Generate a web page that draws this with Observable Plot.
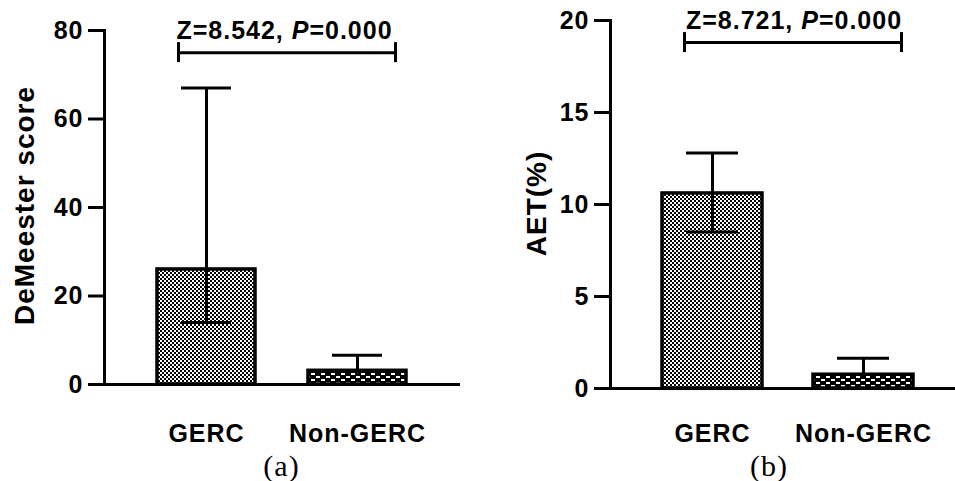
<!DOCTYPE html>
<html>
<head>
<meta charset="utf-8">
<script src="https://cdn.jsdelivr.net/npm/d3@7"></script>
<script src="https://cdn.jsdelivr.net/npm/@observablehq/plot@0.6"></script>
<style>
  html, body { margin: 0; padding: 0; background: #fff; }
  #wrap { display: flex; flex-direction: row; width: 955px; height: 481px; overflow: hidden; }
</style>
</head>
<body>
<svg width="0" height="0" style="position:absolute">
  <defs>
    <pattern id="dots" width="4" height="4" patternUnits="userSpaceOnUse">
      <rect width="4" height="4" fill="#000"/>
      <rect x="0" y="0" width="2" height="2" fill="#fff"/>
      <rect x="2" y="2" width="2" height="2" fill="#fff"/>
    </pattern>
    <pattern id="checks" width="10" height="6" patternUnits="userSpaceOnUse">
      <rect width="10" height="6" fill="#000"/>
      <rect x="1" y="1" width="4" height="2" fill="#fff"/>
      <rect x="6" y="4" width="4" height="2" fill="#fff"/>
    </pattern>
  </defs>
</svg>
<div id="wrap"></div>
<script>
// ---- data ----
const categories = ["GERC", "Non-GERC"];
const demeesterMean = [26, 3.1];
const demeesterUpper = [67, 6.6];
const demeesterLower = [14, null];
const aetMean = [10.6, 0.75];
const aetUpper = [12.8, 1.65];
const aetLower = [8.5, null];
const demeesterTicks = [0, 20, 40, 60, 80];
const aetTicks = [0, 5, 10, 15, 20];
const yTitles = ["DeMeester score", "AET(%)"];
const statLabels = ["Z=8.542, P=0.000", "Z=8.721, P=0.000"];
const bracketLevels = [75, 18.8];
const panelLabels = ["(a)", "(b)"];

function rowsOf(mean, upper, lower) {
  return categories.map((c, i) => ({group: c, mean: mean[i], upper: upper[i], lower: lower[i]}));
}

function italicizeP(svg, label) {
  d3.select(svg).selectAll("text")
    .filter(function () { return this.textContent === label; })
    .each(function () {
      const k = label.indexOf("P");
      const t = d3.select(this);
      t.text(null);
      t.append("tspan").text(label.slice(0, k));
      t.append("tspan").attr("font-style", "italic").text("P");
      t.append("tspan").text(label.slice(k + 1));
    });
}

function panel(o) {
  const rows = rowsOf(o.mean, o.upper, o.lower);
  const fills = {"GERC": "url(#dots)", "Non-GERC": "url(#checks)"};
  const svg = Plot.plot({
    width: o.width,
    height: 481,
    marginLeft: o.marginLeft,
    marginRight: o.marginRight,
    marginTop: o.marginTop,
    marginBottom: o.marginBottom,
    style: {fontFamily: "'Liberation Sans', Arial, sans-serif", fontSize: "25px", fontWeight: "bold", letterSpacing: "1px", color: "#000", background: "#fff"},
    x: {domain: categories, paddingInner: o.paddingInner, paddingOuter: o.paddingOuter, align: o.align, label: null},
    y: {domain: o.domain, label: null},
    marks: [
      ...categories.map(c => Plot.barY(rows, {filter: d => d.group === c, x: "group", y: "mean", fill: fills[c], stroke: "#000", strokeWidth: 3.5})),
      Plot.ruleX(rows, {x: "group", y1: d => d.lower ?? d.mean, y2: "upper", stroke: "#000", strokeWidth: 3}),
      Plot.tickY(rows, {x: "group", y: "upper", insetLeft: 24, insetRight: 24, stroke: "#000", strokeWidth: 3}),
      Plot.tickY(rows.filter(d => d.lower != null), {x: "group", y: "lower", insetLeft: 24, insetRight: 24, stroke: "#000", strokeWidth: 3}),
      Plot.ruleY([0], {insetLeft: -16, stroke: "#000", strokeWidth: 3}),
      Plot.frame({anchor: "left", stroke: "#000", strokeWidth: 3}),
      Plot.axisY({ticks: o.ticks, tickSize: 16, tickPadding: 5, strokeWidth: 3, label: null, tickFormat: d => String(d)}),
      Plot.axisX({tickSize: 0, tickPadding: o.xPad, label: null}),
      Plot.text([o.title], {frameAnchor: "left", textAnchor: "middle", lineAnchor: "middle", rotate: -90, dx: o.titleDx, dy: o.titleDy, fontSize: 28}),
      // significance bracket
      Plot.ruleY([{a: categories[0], b: categories[1], level: o.level}], {x1: "a", x2: "b", y: "level", insetLeft: 21, insetRight: 12, stroke: "#000", strokeWidth: 3}),
      Plot.ruleX([{c: categories[0], level: o.level}], {x: "c", y1: "level", y2: "level", insetTop: 10, insetBottom: 10, dx: -28, stroke: "#000", strokeWidth: 3}),
      Plot.ruleX([{c: categories[1], level: o.level}], {x: "c", y1: "level", y2: "level", insetTop: 10, insetBottom: 10, dx: 38, stroke: "#000", strokeWidth: 3}),
      Plot.text([{label: o.stat, level: o.level}], {y: "level", text: "label", lineAnchor: "bottom", dy: -14, dx: o.statDx}),
      Plot.text([o.caption], {frameAnchor: "bottom", lineAnchor: "bottom", dy: o.capDy, dx: o.capDx, fontFamily: "'Liberation Serif', 'Times New Roman', serif", fontWeight: "normal", fontSize: 30, letterSpacing: "0px"})
    ]
  });
  italicizeP(svg, o.stat);
  return svg;
}

const wrap = document.getElementById("wrap");
wrap.appendChild(panel({
  width: 480, marginLeft: 104, marginRight: 20, marginTop: 30, marginBottom: 97,
  paddingInner: 0.35, paddingOuter: 0.35, align: 0.5,
  domain: [0, 80], ticks: demeesterTicks,
  mean: demeesterMean, upper: demeesterUpper, lower: demeesterLower,
  title: yTitles[0], titleDx: -79, titleDy: -2, xPad: 40,
  level: bracketLevels[0], stat: statLabels[0], statDx: 2,
  caption: panelLabels[0], capDy: 91, capDx: -1
}));
wrap.appendChild(panel({
  width: 475, marginLeft: 130, marginRight: 0, marginTop: 20, marginBottom: 93,
  paddingInner: 0.34, paddingOuter: 0.31, align: 0.554,
  domain: [0, 20], ticks: aetTicks,
  mean: aetMean, upper: aetUpper, lower: aetLower,
  title: yTitles[1], titleDx: -73, titleDy: -1, xPad: 36,
  level: bracketLevels[1], stat: statLabels[1], statDx: 11,
  caption: panelLabels[1], capDy: 87, capDx: -14
}));
</script>
</body>
</html>
